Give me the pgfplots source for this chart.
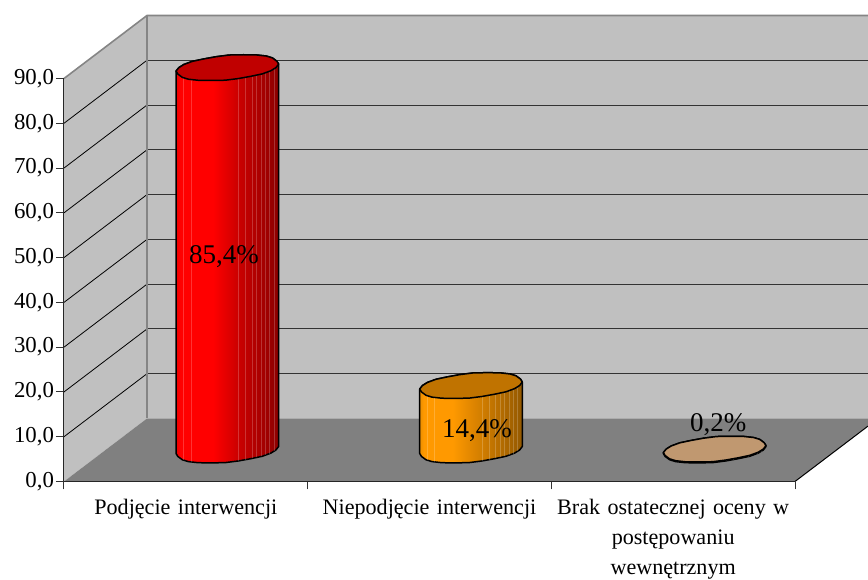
\documentclass[border=0pt]{standalone}
\usepackage{fontspec}
\setmainfont{Liberation Serif}
\usepackage{pgfplots}
\usepackage{pgfplotstable}
\pgfplotsset{compat=1.18}

\definecolor{wall}{HTML}{C0C0C0}
\definecolor{floorgrey}{HTML}{808080}
\definecolor{edgegrey}{HTML}{858585}
\definecolor{gridgrey}{HTML}{333333}
\definecolor{redtop}{HTML}{C00000}
\definecolor{orangebar}{HTML}{FF9900}
\definecolor{orangetop}{HTML}{C07300}
\definecolor{tanbar}{HTML}{C09870}

% Cylinder side shadings (the visible range of a TikZ shading is 25bp--75bp)
\pgfdeclarehorizontalshading{redside}{100bp}{
  color(0bp)=(red!92!black); color(25bp)=(red!92!black); color(27bp)=(red);
  color(43bp)=(red); color(55bp)=(red!80!black); color(75bp)=(red!55!black); color(100bp)=(red!55!black)}
\pgfdeclarehorizontalshading{orangeside}{100bp}{
  color(0bp)=(orangebar!92!black); color(25bp)=(orangebar!92!black); color(27bp)=(orangebar);
  color(41bp)=(orangebar); color(55bp)=(orangebar!82!black); color(75bp)=(orangebar!58!black); color(100bp)=(orangebar!58!black)}
\pgfdeclarehorizontalshading{tanside}{100bp}{color(0bp)=(tanbar); color(100bp)=(tanbar)}

% Rim of a cylinder: dx, dy in points from its centre
\pgfplotstableread{
dx dy
48.6 0
51.3 3.8
49.5 7.0
45.0 10.6
39.0 12.6
29.0 13.8
16.0 14.0
2.0 13.7
-11.0 11.9
-23.7 9.4
-35.0 6.8
-43.5 3.4
-48.5 0
-51.3 -3.8
-49.5 -7.0
-45.0 -10.6
-39.0 -12.6
-29.0 -13.8
-16.0 -14.0
-2.0 -13.7
11.0 -11.9
23.7 -9.4
35.0 -6.8
43.5 -3.4
48.6 0
}\rimtable

% Outline of the side: lower rim on the floor (h=0), upper rim at the value (h=1)
\pgfplotstableread{
dx dy h
-51.3 -3.8 0
-49.5 -7.0 0
-45.0 -10.6 0
-39.0 -12.6 0
-29.0 -13.8 0
-16.0 -14.0 0
-2.0 -13.7 0
11.0 -11.9 0
23.7 -9.4 0
35.0 -6.8 0
43.5 -3.4 0
48.6 0 0
51.3 3.8 0
51.3 3.8 1
49.5 7.0 1
45.0 10.6 1
39.0 12.6 1
29.0 13.8 1
16.0 14.0 1
2.0 13.7 1
-11.0 11.9 1
-23.7 9.4 1
-35.0 6.8 1
-43.5 3.4 1
-48.5 0 1
-51.3 -3.8 1
-51.3 -3.8 0
}\sidetable

% Facet seams on the side
\pgfplotstableread{
dx dy h
-44.0 -11.2 0
-44.0 -11.2 1
nan nan nan
-36.4 -13.0 0
-36.4 -13.0 1
nan nan nan
11.3 -11.8 0
11.3 -11.8 1
nan nan nan
18.4 -10.4 0
18.4 -10.4 1
nan nan nan
24.6 -9.1 0
24.6 -9.1 1
nan nan nan
29.2 -8.0 0
29.2 -8.0 1
nan nan nan
33.9 -7.0 0
33.9 -7.0 1
nan nan nan
38.0 -5.2 0
38.0 -5.2 1
nan nan nan
42.3 -3.9 0
42.3 -3.9 1
nan nan nan
46.9 -1.6 0
46.9 -1.6 1
}\seamtable

% Category position, value, side shading, top colour
\newcommand{\cylinder}[4]{
  \addplot[draw=black, line width=1.5pt, line join=round, shading=#3]
    table[x expr=#1+0.1703+\thisrow{dx}/243.67, y expr=7.03+\thisrow{dy}/4.87+\thisrow{h}*#2] {\sidetable};
  \addplot[draw=white, draw opacity=0.2, line width=0.8pt, unbounded coords=jump]
    table[x expr=#1+0.1703+\thisrow{dx}/243.67, y expr=7.03+\thisrow{dy}/4.87+\thisrow{h}*#2] {\seamtable};
  \addplot[draw=black, line width=1.5pt, line join=round, fill=#4]
    table[x expr=#1+0.1703+\thisrow{dx}/243.67, y expr=7.03+\thisrow{dy}/4.87+#2] {\rimtable};
}
% Pair of heights of one grid line, on the front edge and on the back wall
\newcommand{\gridline}[2]{
  \addplot[black, line width=0.8pt] coordinates {(0,#1) (0.3406,#2)};
  \addplot[gridgrey, line width=1pt] coordinates {(0.3406,#2) (3.2996,#2)};
}

\begin{document}
\begin{tikzpicture}
\path[use as bounding box] (-64pt,-98.5pt) rectangle (804pt,481.5pt);
\begin{axis}[
  anchor=south west, at={(0pt,0pt)},
  scale only axis, width=731pt, height=403pt,
  xmin=0, xmax=3, ymin=0, ymax=90,
  clip=false, axis on top,
  axis lines=left,
  axis line style={-, line width=1pt, color=black!85},
  tick style={line width=1pt, color=black!80},
  tick align=outside, major tick length=8pt,
  xtick={0,1,2,3}, xticklabels={},
  extra x ticks={0.5,1.5,2.5},
  extra x tick style={major tick length=0pt},
  extra x tick labels={Podjęcie interwencji, Niepodjęcie interwencji, {Brak ostatecznej oceny w\\postępowaniu\\wewnętrznym}},
  x tick label style={font=\fontsize{22.1}{30}\selectfont, align=center, text width=250pt, yshift=-14.5pt},
  ytick={0,10,...,90},
  y tick label style={font=\fontsize{22.8}{26}\selectfont, xshift=1.5pt},
  yticklabel style={/pgf/number format/.cd, fixed, fixed zerofill, precision=1, use comma, assume math mode=true},
]
% Walls and floor
\addplot[draw=none, fill=wall] coordinates {(0.3406,14.07) (0.3406,104.07) (3.2996,104.07) (3.2996,14.07)};
\addplot[draw=none, fill=wall] coordinates {(0,0) (0,90) (0.3406,104.07) (0.3406,14.07)};
\gridline{10}{24.07}
\gridline{20}{34.07}
\gridline{30}{44.07}
\gridline{40}{54.07}
\gridline{50}{64.07}
\gridline{60}{74.07}
\gridline{70}{84.07}
\gridline{80}{94.07}
\addplot[draw=none, fill=floorgrey] coordinates {(0,0) (0.3406,14.07) (3.2996,14.07) (3.2996,12.37) (3,0)};
\addplot[edgegrey, line width=1.6pt] coordinates {(0,90) (0.3406,104.07) (3.2996,104.07)};
\addplot[edgegrey, line width=1.8pt] coordinates {(0.3406,104.07) (0.3406,14.07)};
\addplot[black, line width=1pt] coordinates {(3,0) (3.2996,12.37)};
% Cylinders
\cylinder{0.5}{85.4}{redside}{redtop}
\cylinder{1.5}{14.4}{orangeside}{orangetop}
\cylinder{2.5}{0.2}{tanside}{tanbar}
% Value labels
\node[font=\fontsize{27}{27}\selectfont, inner sep=0pt] at (axis cs:0.6566,50.3) {85,4\%};
\node[font=\fontsize{27}{27}\selectfont, inner sep=0pt] at (axis cs:1.695,11.4) {14,4\%};
\node[font=\fontsize{27}{27}\selectfont, inner sep=0pt] at (axis cs:2.685,12.8) {0,2\%};
\end{axis}
\end{tikzpicture}
\end{document}
